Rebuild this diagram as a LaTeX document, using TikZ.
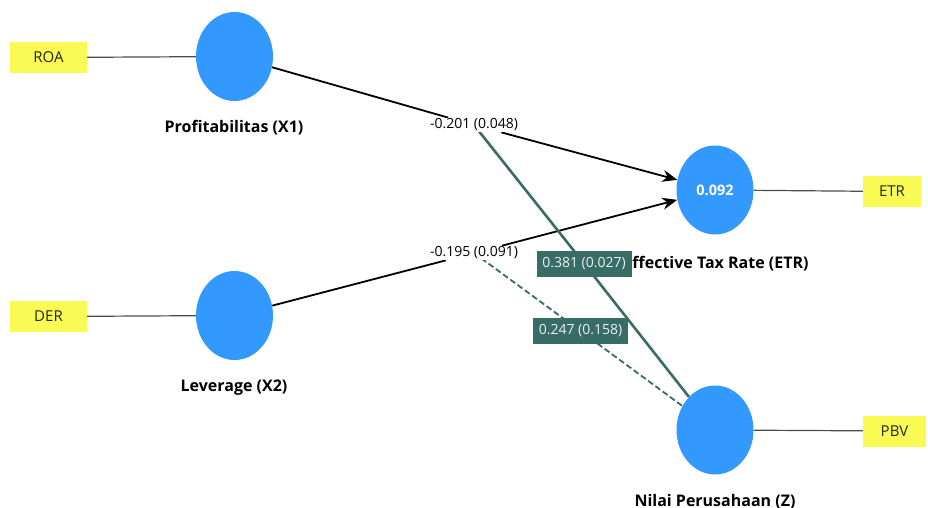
\documentclass[tikz,border=0pt]{standalone}
\usepackage{fontspec}
\setmainfont{Open Sans}
\usetikzlibrary{shapes.geometric,arrows.meta,backgrounds}
\definecolor{lvblue}{RGB}{51,153,255}
\definecolor{indyel}{RGB}{250,250,85}
\definecolor{tealc}{RGB}{56,108,103}
\tikzset{
  latent/.style={ellipse,fill=lvblue,draw=none,minimum width=77pt,minimum height=89pt,inner sep=0pt,text=white,font=\fontsize{14.5}{16}\selectfont\bfseries},
  indic/.style={rectangle,fill=indyel,draw=none,minimum height=31pt,inner sep=0pt,text=black!85,font=\fontsize{15}{17}\selectfont},
  cname/.style={font=\fontsize{16}{18}\selectfont\bfseries,text=black,inner sep=1pt},
  plabel/.style={fill=white,inner sep=1pt,font=\fontsize{14}{16}\selectfont,text=black},
  tlabel/.style={fill=tealc,inner sep=2pt,minimum height=26pt,minimum width=95pt,font=\fontsize{14}{16}\selectfont,text=white!90!tealc},
  thinline/.style={draw=black!70,line width=1.2pt},
  blkpath/.style={draw=black,line width=1.8pt},
  arr/.style={blkpath,-{Stealth[length=15pt,width=12pt]}},
  tealsolid/.style={draw=tealc,line width=2.6pt},
  tealdash/.style={draw=tealc,line width=1.8pt,dash pattern=on 6pt off 3pt},
}
\begin{document}
\begin{tikzpicture}[x=1pt,y=-1pt]
\useasboundingbox (0,0) rectangle (928,508);
% latent variables
\node[latent] (x1) at (234.5,56.5) {};
\node[latent] (x2) at (234.5,315.5) {};
\node[latent] (etr) at (715,190) {0.092};
\node[latent] (z) at (715,430) {};
% indicators
\node[indic,minimum width=77pt] (roa) at (48.5,57.5) {ROA};
\node[indic,minimum width=77pt] (der) at (48.5,316.5) {DER};
\node[indic,minimum width=58pt] (etri) at (892,191.5) {ETR};
\node[indic,minimum width=63pt] (pbv) at (894.5,431) {PBV};
% construct names
\node[cname] (x1n) at (234,128) {Profitabilitas (X1)};
\node[cname] (x2n) at (234,388) {Leverage (X2)};
\node[cname] (etrn) at (716,264) {Effective Tax Rate (ETR)};
\node[cname] (zn) at (715,502) {Nilai Perusahaan (Z)};
% path coefficient labels
\node[plabel] (p1) at (474,125) {-0.201 (0.048)};
\node[plabel] (p2) at (474,253) {-0.195 (0.091)};
\node[tlabel] (t1) at (584,263.5) {0.381 (0.027)};
\node[tlabel] (t2) at (580.5,331) {0.247 (0.158)};
\begin{scope}[on background layer]
\draw[thinline] (roa) -- (x1);
\draw[thinline] (der) -- (x2);
\draw[thinline] (etr) -- (etri);
\draw[thinline] (z) -- (pbv);
\draw[blkpath] (x1) -- (p1);
\draw[arr] (p1) -- (etr);
\draw[blkpath] (x2) -- (p2);
\draw[arr] (p2) -- (etr);
\draw[tealsolid] (p1.center) -- (t1.center) -- (z);
\draw[tealdash] (p2.center) -- (t2.center) -- (z);
\end{scope}
\end{tikzpicture}
\end{document}
